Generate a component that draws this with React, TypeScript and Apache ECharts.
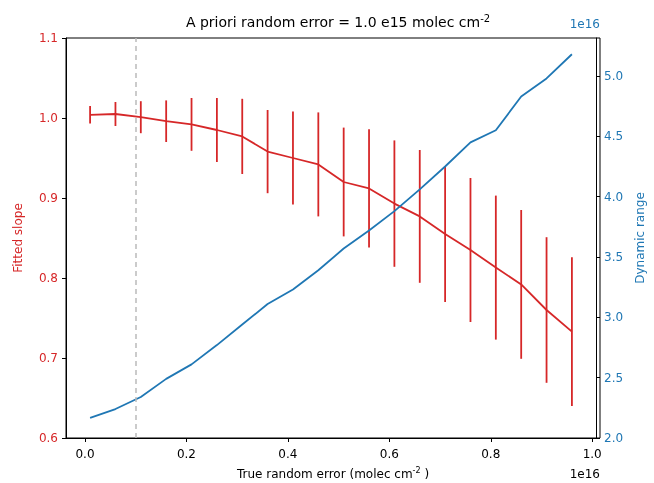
import React, { useEffect, useRef } from "react";
import * as echarts from "echarts";

const xValues = [0.01, 0.06, 0.11, 0.16, 0.21, 0.26, 0.31, 0.36, 0.41, 0.46, 0.51, 0.56, 0.61, 0.66, 0.71, 0.76, 0.81, 0.86, 0.91, 0.96];
const slope = [1.004, 1.005, 1.001, 0.996, 0.992, 0.985, 0.977, 0.958, 0.95, 0.942, 0.92, 0.912, 0.893, 0.877, 0.855, 0.835, 0.813, 0.792, 0.76, 0.733];
const slopeErr = [0.011, 0.015, 0.02, 0.026, 0.033, 0.04, 0.047, 0.052, 0.058, 0.065, 0.068, 0.074, 0.079, 0.083, 0.085, 0.09, 0.09, 0.093, 0.091, 0.093];
const dynRange = [2.166, 2.24, 2.34, 2.49, 2.61, 2.77, 2.94, 3.11, 3.23, 3.39, 3.57, 3.72, 3.88, 4.06, 4.25, 4.45, 4.55, 4.83, 4.98, 5.18];
const xTicks = [0, 0.2, 0.4, 0.6, 0.8, 1.0];
const rightTicks = [2.0, 2.5, 3.0, 3.5, 4.0, 4.5, 5.0];

const RED = "#d62728";
const BLUE = "#1f77b4";
const FONT = "DejaVu Sans";

const App: React.FC = () => {
  const chartRef = useRef<HTMLDivElement | null>(null);

  useEffect(() => {
    if (!chartRef.current) return;
    const chart = echarts.init(chartRef.current, undefined, { renderer: "svg" });

    const option: any = {
      animation: false,
      textStyle: { fontFamily: FONT },
      title: {
        text: "{a|A priori random error = 1.0 e15 molec cm}{s|-2}",
        left: 333,
        textAlign: "center",
        top: 8,
        textStyle: {
          fontWeight: "normal",
          rich: {
            a: { fontSize: 14, color: "#000", fontFamily: FONT, fontWeight: "normal" },
            s: { fontSize: 10, color: "#000", fontFamily: FONT, fontWeight: "normal", verticalAlign: "top", padding: [0, 0, 8, 0] },
          },
        },
      },
      grid: { left: 66, right: 54, top: 38, bottom: 45 },
      xAxis: {
        type: "value",
        min: -0.0375,
        max: 1.0075,
        axisLine: { onZero: false, lineStyle: { color: "#000" } },
        axisTick: { show: true, customValues: xTicks, length: 4, lineStyle: { color: "#000" } },
        axisLabel: { customValues: xTicks, color: "#000", fontSize: 12, margin: 10, formatter: (v: number) => v.toFixed(1) },
        splitLine: { show: false },
      },
      yAxis: [
        {
          type: "value",
          min: 0.6,
          max: 1.1,
          interval: 0.1,
          position: "left",
          name: "Fitted slope",
          nameLocation: "middle",
          nameGap: 42,
          nameTextStyle: { color: RED, fontSize: 12 },
          axisLine: { show: true, onZero: false, lineStyle: { color: "#000" } },
          axisTick: { show: true, length: 4, lineStyle: { color: "#000" } },
          axisLabel: { color: RED, fontSize: 12, formatter: (v: number) => v.toFixed(1) },
          splitLine: { show: false },
        },
        {
          type: "value",
          min: 2.0,
          max: 2.0 + 400 / 120.67,
          position: "right",
          name: "Dynamic range",
          nameLocation: "middle",
          nameGap: 38,
          nameRotate: 90,
          nameTextStyle: { color: BLUE, fontSize: 12 },
          axisLine: { show: true, onZero: false, lineStyle: { color: "#000" } },
          axisTick: { show: true, customValues: rightTicks, length: 4, lineStyle: { color: "#000" } },
          axisLabel: { customValues: rightTicks, color: BLUE, fontSize: 12, formatter: (v: number) => v.toFixed(1) },
          splitLine: { show: false },
        },
      ],
      graphic: [
        { type: "rect", shape: { x: 66, y: 38, width: 534, height: 400 }, style: { fill: "none", stroke: "#000", lineWidth: 1 }, silent: true },
        { type: "text", right: 54, top: 18, style: { text: "1e16", fill: BLUE, fontSize: 12, fontFamily: FONT } },
        { type: "text", x: 600, y: 474, style: { text: "1e16", fill: "#000", fontSize: 12, fontFamily: FONT, align: "right", verticalAlign: "middle" } },
        {
          type: "text",
          x: 333,
          y: 474,
          style: {
            text: "{a|True random error (molec cm}{s|-2}{a| )}",
            align: "center",
            verticalAlign: "middle",
            rich: {
              a: { fontSize: 12, fill: "#000", fontFamily: FONT },
              s: { fontSize: 8, fill: "#000", fontFamily: FONT, verticalAlign: "top", padding: [0, 0, 8, 0] },
            },
          },
        },
      ],
      series: [
        {
          type: "line",
          yAxisIndex: 0,
          data: [],
          markLine: {
            silent: true,
            symbol: "none",
            label: { show: false },
            lineStyle: { color: "#bbbbbb", type: [5, 4], width: 1.5 },
            data: [{ xAxis: 0.1 }],
          },
        },
        {
          type: "line",
          yAxisIndex: 0,
          data: xValues.map((x, i) => [x, slope[i]]),
          symbol: "none",
          lineStyle: { color: RED, width: 1.8 },
        },
        {
          type: "custom",
          yAxisIndex: 0,
          data: xValues.map((x, i) => [x, slope[i] - slopeErr[i], slope[i] + slopeErr[i]]),
          renderItem: (params: any, api: any) => {
            const lo = api.coord([api.value(0), api.value(1)]);
            const hi = api.coord([api.value(0), api.value(2)]);
            return {
              type: "line",
              shape: { x1: lo[0], y1: lo[1], x2: hi[0], y2: hi[1] },
              style: { stroke: RED, lineWidth: 1.8 },
            };
          },
        },
        {
          type: "line",
          yAxisIndex: 1,
          data: xValues.map((x, i) => [x, dynRange[i]]),
          symbol: "none",
          lineStyle: { color: BLUE, width: 1.8 },
        },
      ],
    };

    chart.setOption(option);
    return () => chart.dispose();
  }, []);

  return <div ref={chartRef} style={{ position: "fixed", left: 0, top: 0, width: 654, height: 483 }} />;
};

export default App;
